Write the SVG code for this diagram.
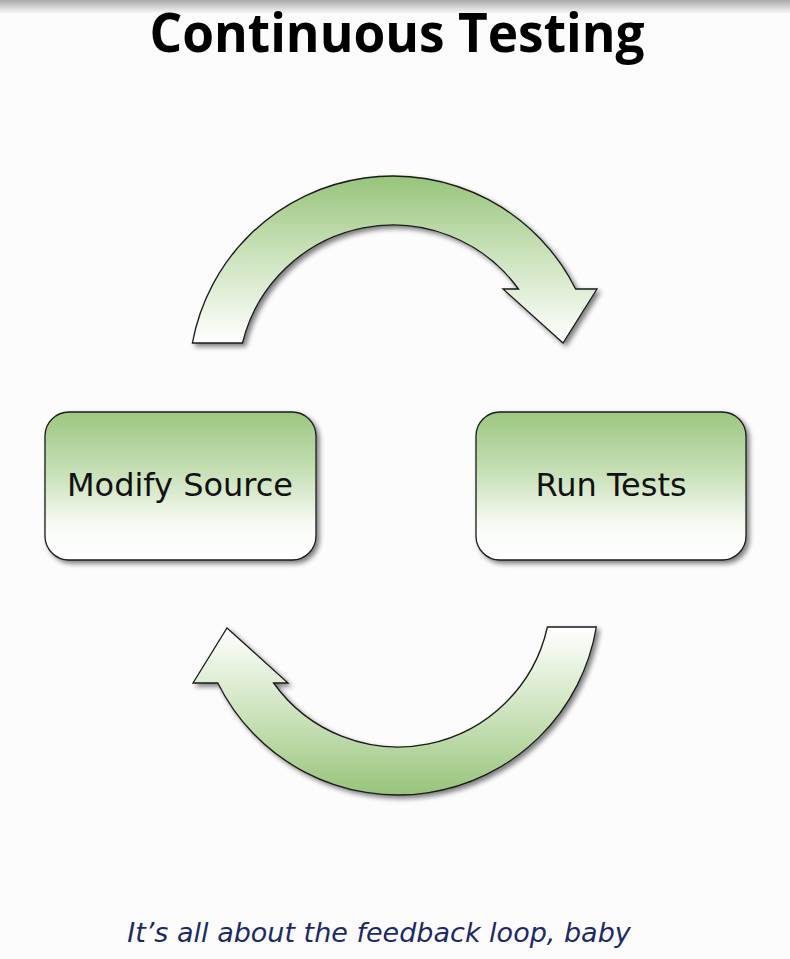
<svg xmlns="http://www.w3.org/2000/svg" width="790" height="959" viewBox="0 0 790 959">
  <defs>
    <linearGradient id="topBand" x1="0" y1="0" x2="0" y2="1">
      <stop offset="0" stop-color="#a9a9a9"/>
      <stop offset="1" stop-color="#fcfcfc"/>
    </linearGradient>
    <linearGradient id="greenDown" x1="0" y1="0" x2="0" y2="1">
      <stop offset="0" stop-color="#98c47b"/>
      <stop offset="0.45" stop-color="#c9e1b8"/>
      <stop offset="1" stop-color="#ffffff"/>
    </linearGradient>
    <linearGradient id="greenUp" x1="0" y1="1" x2="0" y2="0">
      <stop offset="0" stop-color="#98c47b"/>
      <stop offset="0.45" stop-color="#c9e1b8"/>
      <stop offset="1" stop-color="#ffffff"/>
    </linearGradient>
    <linearGradient id="boxGrad" x1="0" y1="0" x2="0" y2="1">
      <stop offset="0" stop-color="#9cc781"/>
      <stop offset="0.4" stop-color="#c6dfb5"/>
      <stop offset="0.75" stop-color="#f6faf3"/>
      <stop offset="1" stop-color="#ffffff"/>
    </linearGradient>
    <filter id="shadow" x="-10%" y="-10%" width="125%" height="125%">
      <feGaussianBlur in="SourceAlpha" stdDeviation="2.5"/>
      <feOffset dx="3" dy="3" result="b"/>
      <feComponentTransfer><feFuncA type="linear" slope="0.5"/></feComponentTransfer>
      <feMerge><feMergeNode/><feMergeNode in="SourceGraphic"/></feMerge>
    </filter>
    <style>
      .box { fill: url(#boxGrad); stroke: #1a1a1a; stroke-width: 1.3; filter: url(#shadow); }
      .arrow { stroke: #1a1a1a; stroke-width: 1.3; stroke-linejoin: miter; filter: url(#shadow); }
      .label { font-family: "DejaVu Sans", sans-serif; font-size: 32px; fill: #111; text-anchor: middle; }
      .title { font-family: "Open Sans", "DejaVu Sans", sans-serif; font-weight: 700; font-size: 54px; fill: #000; text-anchor: middle; }
      .caption { font-family: "DejaVu Sans", sans-serif; font-style: italic; font-size: 27px; fill: #1c2a66; text-anchor: middle; }
    </style>
  </defs>

  <rect x="0" y="0" width="790" height="959" fill="#fcfcfc"/>
  <rect x="0" y="0" width="790" height="14" fill="url(#topBand)"/>

  <text class="title" x="397" y="52" textLength="495" lengthAdjust="spacingAndGlyphs">Continuous Testing</text>

  <g id="connectors">
    <path id="arrow-top" class="arrow" fill="url(#greenDown)" d="M192.4,343 A204,204 0 0 1 575.6,289 L597,289 L563,343 L503,289 L518.5,289 A155,155 0 0 0 242.5,343 Z"/>
    <path id="arrow-bottom" class="arrow" fill="url(#greenUp)" d="M596.3,627 A201,201 0 0 1 217.8,683 L193,683 L227,628 L288,683 L273.6,683 A153,153 0 0 0 547.4,627 Z"/>
  </g>

  <g id="node-modify-source">
    <rect class="box" x="45" y="412" width="271" height="148" rx="24" ry="24"/>
    <text class="label" x="180" y="496">Modify Source</text>
  </g>

  <g id="node-run-tests">
    <rect class="box" x="476" y="412" width="270" height="148" rx="24" ry="24"/>
    <text class="label" x="611" y="496">Run Tests</text>
  </g>

  <text class="caption" x="379" y="942">It’s all about the feedback loop, baby</text>
</svg>
